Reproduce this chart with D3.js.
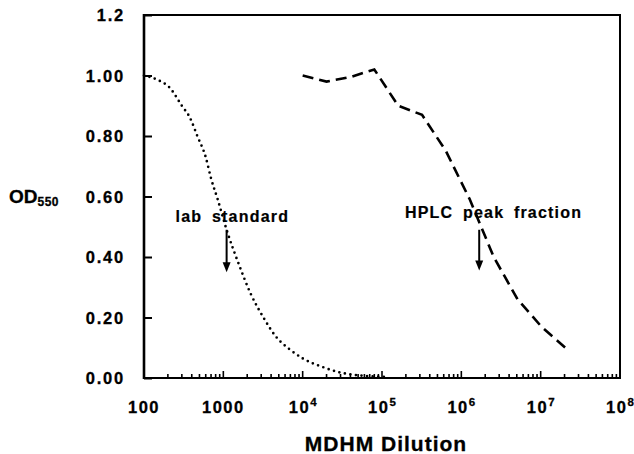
<!DOCTYPE html>
<html>
<head>
<meta charset="utf-8">
<script src="https://cdn.jsdelivr.net/npm/d3@7"></script>
<style>
    body { margin: 0; background: #fff; }
    svg { display: block; font-family: "Liberation Sans", Arial, sans-serif; font-weight: bold; }
</style>
</head>
<body>
<div id="chart"></div>
<script>
// --- data
const labDilution = [100, 150, 210, 300, 380, 470, 600, 700, 850, 1100, 1600, 2200, 3200, 4500, 7000, 10000, 18000, 30000, 50000, 80000, 120000];
const labOD = [1.00, 0.985, 0.96, 0.90, 0.86, 0.80, 0.73, 0.66, 0.59, 0.49, 0.37, 0.28, 0.20, 0.14, 0.093, 0.065, 0.036, 0.018, 0.009, 0.005, 0.003];

const hplcDilution = [1e4, 2e4, 4e4, 8e4, 1.6e5, 3.2e5, 6.4e5, 1.28e6, 2.56e6, 5.12e6, 1.02e7, 2.05e7];
const hplcOD = [1.00, 0.98, 0.995, 1.02, 0.90, 0.87, 0.75, 0.59, 0.40, 0.26, 0.17, 0.10];

const yTickValues = [0, 0.2, 0.4, 0.6, 0.8, 1.0, 1.2];
const yTickLabels = ['0.00', '0.20', '0.40', '0.60', '0.80', '1.00', '1.2'];
const xTickValues = [1e2, 1e3, 1e4, 1e5, 1e6, 1e7, 1e8];
const xTickBase = ['100', '1000', '10', '10', '10', '10', '10'];
const xTickExp = ['', '', '4', '5', '6', '7', '8'];

const annotations = [
    { text: 'lab standard', x: 1300, y: 0.515, arrowX: 1100, from: 0.49, to: 0.35 },
    { text: 'HPLC peak fraction', x: 2.55e6, y: 0.53, arrowX: 1.68e6, from: 0.49, to: 0.355 },
];

const width = 634, height = 454;
const margin = { left: 144, top: 15, right: 14, bottom: 76 };

const svg = d3.select('#chart').append('svg')
    .attr('width', width)
    .attr('height', height);

const x = d3.scaleLog().domain([100, 1e8]).range([margin.left, width - margin.right]);
const y = d3.scaleLinear().domain([0, 1.2]).range([height - margin.bottom, margin.top]);

// --- frame
svg.append('rect')
    .attr('x', x(100)).attr('y', y(1.2))
    .attr('width', x(1e8) - x(100)).attr('height', y(0) - y(1.2))
    .attr('fill', 'none').attr('stroke', '#000').attr('stroke-width', 2);
svg.append('line')
    .attr('x1', x(100)).attr('x2', x(100)).attr('y1', y(1.2) - 1).attr('y2', y(0) + 1)
    .attr('stroke', '#000').attr('stroke-width', 2.6);

// --- y ticks (inward)
const yAxis = d3.axisLeft(y).tickValues(yTickValues).tickSizeInner(-8).tickSizeOuter(0)
    .tickPadding(19).tickFormat((d, i) => yTickLabels[i]);
const gy = svg.append('g').attr('transform', `translate(${x(100)},0)`).call(yAxis);
gy.select('.domain').remove();
gy.selectAll('.tick line').attr('stroke-width', 2);
gy.selectAll('.tick text')
    .attr('font-size', 16.5).attr('font-family', null).attr('letter-spacing', 1.8)
    .attr('stroke', '#000').attr('stroke-width', 0.3)
    .attr('dy', '0.36em');

// --- x ticks (inward, minor every 2..9)
const allX = x.ticks();
const isMajor = d => Math.abs(Math.log10(d) - Math.round(Math.log10(d))) < 1e-9;
svg.append('g').selectAll('line')
    .data(allX.filter(d => d > 100 && d < 1e8))
    .join('line')
    .attr('x1', d => x(d)).attr('x2', d => x(d))
    .attr('y1', y(0)).attr('y2', d => y(0) - (isMajor(d) ? 7 : 4))
    .attr('stroke', '#000').attr('stroke-width', 1.6);

const xLabels = svg.append('g');
xTickValues.forEach((v, i) => {
    const t = xLabels.append('text')
        .attr('x', x(v)).attr('y', 413)
        .attr('text-anchor', 'middle')
        .attr('font-size', 16.5).attr('letter-spacing', 1.5)
        .attr('stroke', '#000').attr('stroke-width', 0.3);
    t.append('tspan').text(xTickBase[i]);
    if (xTickExp[i]) {
        t.append('tspan').attr('dy', -7).attr('font-size', 11.5).attr('letter-spacing', 0).text(xTickExp[i]);
    }
});

// --- axis titles
svg.append('text')
    .attr('x', 386).attr('y', 451)
    .attr('text-anchor', 'middle')
    .attr('font-size', 21).attr('letter-spacing', 1)
    .attr('stroke', '#000').attr('stroke-width', 0.3)
    .text('MDHM  Dilution');

const od = svg.append('text').attr('x', 9).attr('y', 203).attr('font-size', 19)
    .attr('stroke', '#000').attr('stroke-width', 0.3);
od.append('tspan').text('OD');
od.append('tspan').attr('dy', 3).attr('font-size', 12).attr('letter-spacing', 0.5).text('550');

// --- curves
const lineSmooth = d3.line().x(d => x(d[0])).y(d => y(d[1])).curve(d3.curveMonotoneX);
const lineStraight = d3.line().x(d => x(d[0])).y(d => y(d[1]));

svg.append('path')
    .datum(d3.zip(labDilution, labOD))
    .attr('fill', 'none')
    .attr('stroke', '#000')
    .attr('stroke-width', 2.7)
    .attr('stroke-linecap', 'round')
    .attr('stroke-dasharray', '0 5.6')
    .attr('d', lineSmooth);

svg.append('path')
    .datum(d3.zip(hplcDilution, hplcOD))
    .attr('fill', 'none')
    .attr('stroke', '#000')
    .attr('stroke-width', 2.6)
    .attr('stroke-dasharray', '11 6')
    .attr('d', lineStraight);

// --- annotations with arrows
annotations.forEach(a => {
    svg.append('text')
        .attr('x', x(a.x)).attr('y', y(a.y))
        .attr('text-anchor', 'middle')
        .attr('font-size', 16).attr('letter-spacing', 1.2).attr('word-spacing', 4)
        .attr('stroke', '#000').attr('stroke-width', 0.2)
        .text(a.text);
    const ax = x(a.arrowX), y1 = y(a.from), y2 = y(a.to);
    svg.append('line')
        .attr('x1', ax).attr('x2', ax).attr('y1', y1).attr('y2', y2 - 8)
        .attr('stroke', '#000').attr('stroke-width', 2);
    svg.append('path')
        .attr('d', `M${ax - 4},${y2 - 10}L${ax + 4},${y2 - 10}L${ax},${y2}Z`)
        .attr('fill', '#000');
});
</script>
</body>
</html>
